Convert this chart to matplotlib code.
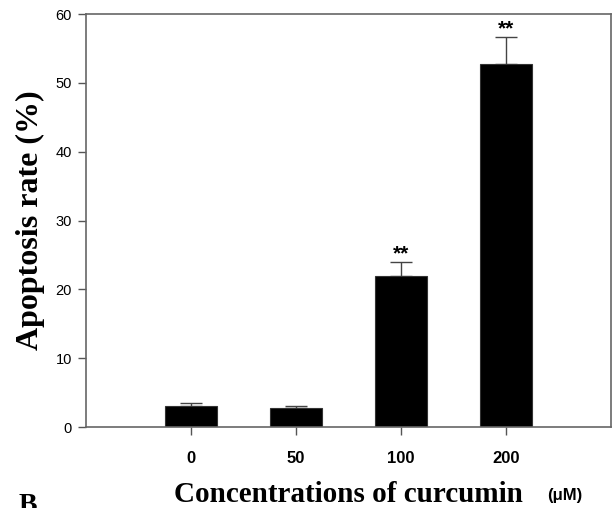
import numpy as np
import matplotlib
matplotlib.use("Agg")
import matplotlib.pyplot as plt

# ── Data ──────────────────────────────────────────────────────────────
concentrations = ["0", "50", "100", "200"]
apoptosis_rate = [3.05, 2.7, 22.0, 52.8]
error_sd = [0.45, 0.3, 2.0, 3.9]
significance = ["", "", "**", "**"]

fig = plt.figure(figsize=(6.13, 5.08), dpi=100)
ax = fig.add_axes([0.1403, 0.1594, 0.8564, 0.813])

x = np.arange(len(concentrations))
ax.bar(x, apoptosis_rate, width=0.5, color="black", edgecolor="#333333", linewidth=0.8, zorder=2)
ax.errorbar(x, apoptosis_rate, yerr=[np.zeros(len(x)), error_sd], fmt="none",
            ecolor="#444444", elinewidth=1.0, capsize=8, capthick=1.0, zorder=1)

for xi, yi, ei, s in zip(x, apoptosis_rate, error_sd, significance):
    if s:
        ax.text(xi, yi + ei - 0.3, s, ha="center", va="bottom", fontsize=15,
                fontweight="bold", family="Liberation Sans")

ax.set_xlim(-1.0, 4.0)
ax.set_ylim(0, 60)
ax.set_yticks([0, 10, 20, 30, 40, 50, 60])
ax.set_xticks(x)
ax.set_xticklabels(concentrations, fontsize=12, fontweight="bold", family="Liberation Sans")
for lbl in ax.get_yticklabels():
    lbl.set_family("Liberation Sans")
    lbl.set_fontsize(10.5)
ax.tick_params(axis="x", direction="out", length=6, width=1, color="#555555", pad=11.5)
ax.tick_params(axis="y", direction="out", length=6, width=1, color="#555555", pad=4)
for sp in ax.spines.values():
    sp.set_color("#666666")
    sp.set_linewidth(1.2)

fig.text(0.049, 0.567, "Apoptosis rate (%)", fontsize=23, fontweight="bold",
         family="Liberation Serif", rotation=90, ha="center", va="center")
fig.text(0.5685, 0.0118, "Concentrations of curcumin", fontsize=21, fontweight="bold",
         family="Liberation Serif", ha="center", va="baseline")
fig.text(0.921, 0.0157, "(μM)", fontsize=12, fontweight="bold",
         family="Liberation Sans", ha="center", va="baseline")
fig.text(0.03, -0.02, "B", fontsize=20, fontweight="bold",
         family="Liberation Serif", ha="left", va="bottom")

fig.savefig("out.png", dpi=100)
